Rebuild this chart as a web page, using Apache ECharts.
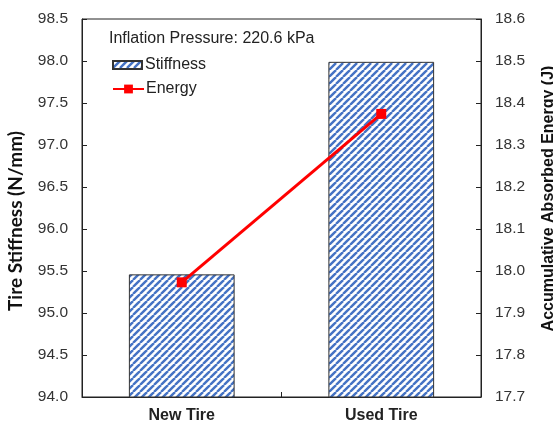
<!DOCTYPE html>
<html>
<head>
<meta charset="utf-8">
<script src="https://cdn.jsdelivr.net/npm/echarts@6/dist/echarts.min.js"></script>
<style>
  html, body { margin: 0; padding: 0; background: #fff; }
  #chart { width: 553px; height: 424px; }
</style>
</head>
<body>
<div id="chart"></div>
<script>
// Tire comparison at one inflation pressure
const categories = ['New Tire', 'Used Tire'];
const stiffness = [95.46, 97.99];      // N/mm
const energy = [17.973, 18.374];       // J
const stiffnessTicks = { min: 94.0, max: 98.5, interval: 0.5 };
const energyTicks = { min: 17.7, max: 18.6, interval: 0.1 };

// Diagonal hatch fill for the stiffness bars
function hatchPattern() {
  const size = 7;
  const c = document.createElement('canvas');
  c.width = size; c.height = size;
  const ctx = c.getContext('2d');
  ctx.fillStyle = '#ffffff';
  ctx.fillRect(0, 0, size, size);
  ctx.strokeStyle = '#4472C4';
  ctx.lineWidth = 2.4;
  for (let k = -1; k <= 1; k++) {
    ctx.beginPath();
    ctx.moveTo(k * size, size);
    ctx.lineTo(k * size + size, 0);
    ctx.stroke();
  }
  return c;
}
const hatch = { image: hatchPattern(), repeat: 'repeat' };

const chart = echarts.init(document.getElementById('chart'), null, { renderer: 'canvas' });
const font = 'Liberation Sans, Arial, sans-serif';

chart.setOption({
  animation: false,
  textStyle: { fontFamily: font },
  title: {
    text: 'Inflation Pressure: 220.6 kPa',
    left: 109, top: 31, padding: 0,
    textStyle: { fontSize: 16, fontWeight: 'normal', color: '#222', fontFamily: font }
  },
  legend: [
    {
      left: 112, top: 57, padding: 0,
      itemWidth: 29, itemHeight: 8,
      textStyle: { fontSize: 16, color: '#222', fontFamily: font, padding: [0, 0, 0, -2] },
      data: [{ name: 'Stiffness', icon: 'rect' }]
    },
    {
      left: 112, top: 81, padding: 0,
      itemWidth: 31, itemHeight: 11,
      textStyle: { fontSize: 16, color: '#222', fontFamily: font, padding: [0, 0, 0, -3] },
      data: [{ name: 'Energy' }]
    }
  ],
  grid: {
    left: 82, right: 72, top: 19, bottom: 27,
    outerBoundsMode: 'none',
    containLabel: false,
    show: true, borderColor: '#222', borderWidth: 1, backgroundColor: 'transparent'
  },
  xAxis: {
    type: 'category',
    data: categories,
    axisLine: { lineStyle: { color: '#222', width: 1 } },
    axisTick: { show: true, inside: true, length: 5, alignWithLabel: false, lineStyle: { color: '#222' } },
    axisLabel: { fontSize: 16, fontWeight: 'bold', color: '#222', margin: 11, fontFamily: font }
  },
  yAxis: [
    {
      type: 'value',
      min: stiffnessTicks.min, max: stiffnessTicks.max, interval: stiffnessTicks.interval,
      name: 'Tire Stiffness (N/mm)',
      nameLocation: 'middle', nameRotate: 90, nameGap: 57,
      nameTextStyle: { fontSize: 19, fontWeight: 'bold', color: '#111',
                       fontFamily: 'Lato, Liberation Sans, sans-serif', padding: [0, 26, 0, 0] },
      axisLine: { show: true, lineStyle: { color: '#222' } },
      axisTick: { show: true, inside: true, length: 5, lineStyle: { color: '#222' } },
      axisLabel: { fontSize: 15.5, color: '#333', margin: 14, fontFamily: font,
                   formatter: v => v.toFixed(1) },
      splitLine: { show: false }
    },
    {
      type: 'value',
      position: 'right',
      min: energyTicks.min, max: energyTicks.max, interval: energyTicks.interval,
      name: 'Accumulative Absorbed Energy (J)',
      nameLocation: 'middle', nameRotate: 90, nameGap: 60,
      nameTextStyle: { fontSize: 16, fontWeight: 'bold', color: '#111', fontFamily: font,
                       padding: [0, 0, 0, 19] },
      axisLine: { show: true, lineStyle: { color: '#222' } },
      axisTick: { show: true, inside: true, length: 5, lineStyle: { color: '#222' } },
      axisLabel: { fontSize: 15.5, color: '#333', margin: 14, fontFamily: font,
                   formatter: v => v.toFixed(1) },
      splitLine: { show: false }
    }
  ],
  series: [
    {
      name: 'Stiffness',
      type: 'bar',
      yAxisIndex: 0,
      data: stiffness,
      barWidth: '53%',
      itemStyle: { color: hatch, borderColor: '#333', borderWidth: 1 }
    },
    {
      name: 'Energy',
      type: 'line',
      yAxisIndex: 1,
      data: energy,
      symbol: 'rect',
      symbolSize: 10,
      lineStyle: { color: '#ff0000', width: 3 },
      itemStyle: { color: '#ff0000' },
      z: 5
    }
  ]
});
</script>
</body>
</html>
